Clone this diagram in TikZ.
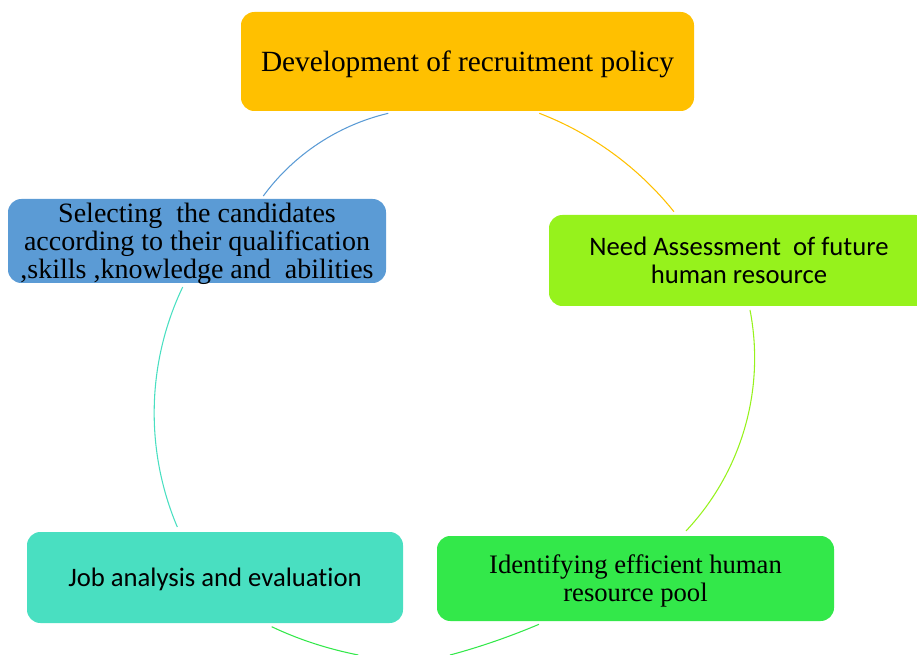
\documentclass[tikz,border=0pt]{standalone}
\usepackage{fontspec}
\newfontfamily\serifx{Liberation Serif}
\newfontfamily\sansx[Ligatures=NoCommon]{Carlito}
\definecolor{cgold}{RGB}{255,192,0}
\definecolor{cblue}{RGB}{91,155,213}
\definecolor{clime}{RGB}{150,242,28}
\definecolor{cteal}{RGB}{73,223,193}
\definecolor{cgreen}{RGB}{51,232,74}
\tikzset{
  stagebox/.style={rounded corners=10pt, inner sep=0pt, align=center, text=black, text depth=0pt},
  arcline/.style={line width=0.8pt}
}
\begin{document}
\begin{tikzpicture}[x=0.75pt,y=-0.75pt]
\useasboundingbox (0,0) rectangle (917,655);
\clip (0,0) rectangle (917,655);
% boxes
\node[stagebox, fill=cgold, minimum width=339.75pt, minimum height=74.25pt,
  font=\serifx\fontsize{22}{24}\selectfont] (dev) at (467.5,61.5) {Development of recruitment policy};
\node[stagebox, fill=clime, minimum width=285pt, minimum height=68.25pt,
  font=\sansx\fontsize{20}{21}\selectfont] (need) at (739,260.5) {Need Assessment\ \ of future\\human resource};
\node[stagebox, fill=cgreen, minimum width=297.75pt, minimum height=63.75pt,
  font=\serifx\fontsize{20}{21}\selectfont] (ident) at (635.5,578.5) {Identifying efficient human\\resource pool};
\node[stagebox, fill=cteal, minimum width=282pt, minimum height=68.25pt,
  font=\sansx\fontsize{20}{21}\selectfont] (job) at (215,577.5) {Job analysis and evaluation};
\node[stagebox, fill=cblue, minimum width=283.5pt, minimum height=63pt,
  font=\serifx\fontsize{21}{21}\selectfont] (sel) at (197,241) {Selecting\ \ the candidates\\according to their qualification\\,skills ,knowledge and\ \ abilities};
% arc end points
\coordinate (a1s) at (539.3,113.3);
\coordinate (a2s) at (750,310);
\coordinate (a3s) at (539,624.3);
\coordinate (a3e) at (450,655);
\coordinate (a4s) at (271.7,626.7);
\coordinate (a4e) at (358.3,655);
\coordinate (a5s) at (177.3,527);
\coordinate (a6s) at (263.3,196);
% arcs
\draw[arcline, cgold] (a1s) arc[start angle=-69.0, end angle=-38.7, radius=319];
\draw[arcline, clime] (a2s) arc[start angle=-11.0, end angle=43.3, radius=252];
\draw[arcline, cgreen] (a3s) .. controls (507.7,637.5) and (478.1,647.5) .. (a3e);
\draw[arcline, cgreen] (a4s) .. controls (298.3,639.4) and (327.2,648.8) .. (a4e);
\draw[arcline, cteal] (a5s) arc[start angle=157.06, end angle=205.51, radius=292.5];
\draw[arcline, cblue] (a6s) arc[start angle=216.3, end angle=256.7, radius=216.9];
\end{tikzpicture}
\end{document}
